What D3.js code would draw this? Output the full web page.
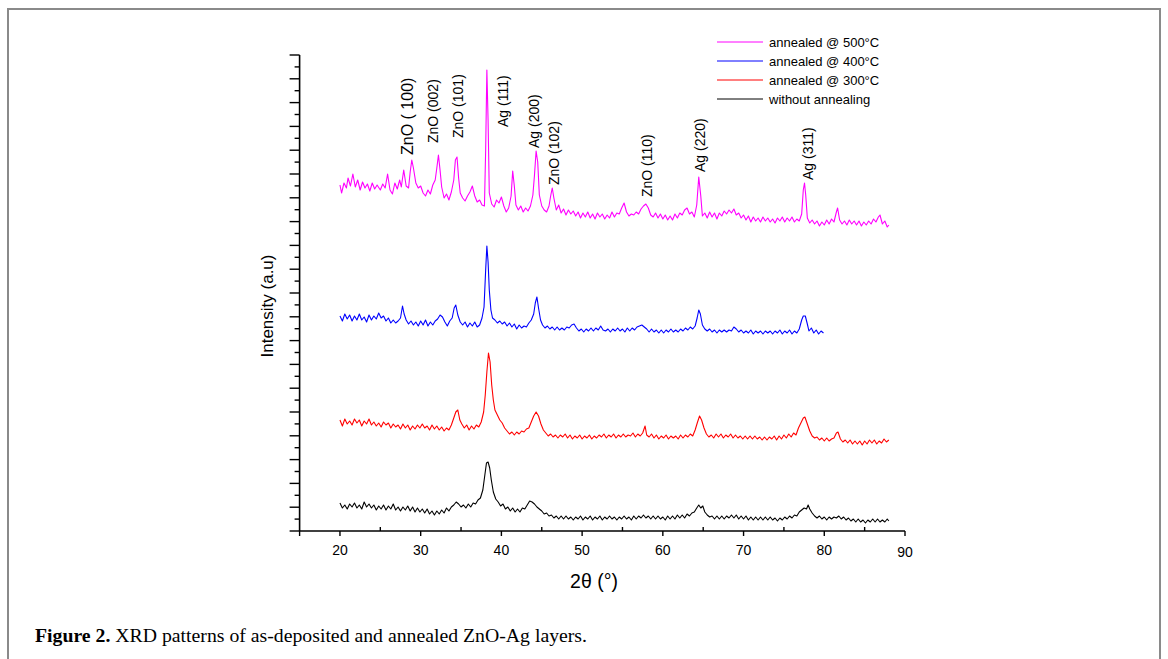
<!DOCTYPE html>
<html lang="en">
<head>
<meta charset="UTF-8">
<title>XRD patterns ZnO-Ag</title>
<script src="https://d3js.org/d3.v7.min.js"></script>
<style>
  body { margin: 0; padding: 0; background: #fff; }
  svg { display: block; }
  .ax text { font-family: "Liberation Sans", Arial, sans-serif; }
</style>
</head>
<body>
<script>
// 2θ (deg) / intensity (a.u.)
var s500 = [[20.0,346],[20.2,338],[20.5,348],[20.8,343],[21.0,353],[21.3,345],[21.6,357],[21.9,344],[22.2,351],[22.5,341],
  [22.8,349],[23.1,343],[23.4,347],[23.7,340],[24.0,348],[24.3,342],[24.6,346],[25.0,341],[25.3,347],[25.6,343],
  [25.9,357],[26.2,341],[26.5,337],[26.8,348],[27.1,342],[27.4,351],[27.6,344],[27.9,361],[28.2,345],[28.5,343],
  [28.7,359],[28.9,371],[29.1,363],[29.4,348],[29.7,343],[30.0,345],[30.3,338],[30.6,335],[30.9,341],[31.2,337],
  [31.5,346],[31.8,351],[32.0,363],[32.2,376],[32.4,361],[32.6,344],[32.9,333],[33.2,337],[33.5,331],[33.8,339],
  [34.1,351],[34.3,371],[34.5,374],[34.7,353],[34.9,338],[35.2,333],[35.5,330],[35.8,335],[36.1,339],[36.4,345],
  [36.7,335],[37.0,329],[37.3,331],[37.6,326],[37.9,325],[38.05,381],[38.2,461],[38.35,411],[38.5,338],[38.8,327],
  [39.1,324],[39.4,331],[39.7,328],[40.0,334],[40.3,325],[40.6,319],[40.9,323],[41.2,335],[41.4,360],[41.6,345],
  [41.8,326],[42.1,321],[42.4,325],[42.7,319],[43.0,323],[43.3,320],[43.6,325],[43.9,336],[44.1,356],[44.3,380],
  [44.5,369],[44.7,336],[45.0,325],[45.3,321],[45.6,319],[45.9,325],[46.1,335],[46.3,343],[46.5,333],[46.8,321],
  [47.1,326],[47.4,318],[47.7,322],[48.0,316],[48.3,321],[48.6,317],[48.9,320],[49.2,315],[49.5,319],[49.8,313],
  [50.1,318],[50.4,314],[50.7,319],[51.0,313],[51.3,317],[51.6,312],[51.9,318],[52.2,314],[52.5,317],[52.8,312],
  [53.1,316],[53.4,313],[53.7,319],[54.0,314],[54.3,318],[54.6,317],[54.9,323],[55.2,328],[55.5,319],[55.8,315],
  [56.1,317],[56.4,316],[56.7,319],[57.0,317],[57.3,322],[57.6,325],[57.9,327],[58.2,323],[58.5,316],[58.8,314],
  [59.1,318],[59.4,313],[59.7,317],[60.0,312],[60.3,316],[60.6,311],[60.9,315],[61.2,311],[61.5,317],[61.8,313],
  [62.1,318],[62.4,316],[62.7,321],[63.0,323],[63.3,317],[63.6,319],[63.9,314],[64.2,326],[64.45,354],[64.7,335],
  [64.9,315],[65.2,318],[65.5,313],[65.8,319],[66.1,314],[66.4,318],[66.7,312],[67.0,318],[67.3,315],[67.6,320],
  [67.9,317],[68.2,321],[68.5,318],[68.8,322],[69.1,316],[69.4,318],[69.7,313],[70.0,316],[70.3,311],[70.6,315],
  [70.9,309],[71.2,314],[71.5,310],[71.8,313],[72.1,309],[72.4,314],[72.7,310],[73.0,313],[73.3,309],[73.6,312],
  [73.9,308],[74.2,313],[74.5,310],[74.8,314],[75.1,309],[75.4,313],[75.7,310],[76.0,314],[76.3,309],[76.6,312],
  [76.9,310],[77.2,317],[77.4,341],[77.55,348],[77.7,336],[77.9,313],[78.2,308],[78.5,311],[78.8,307],[79.1,310],
  [79.4,305],[79.7,309],[80.0,306],[80.3,311],[80.6,307],[80.9,312],[81.2,309],[81.5,319],[81.65,323],[81.9,311],
  [82.2,307],[82.5,310],[82.8,306],[83.1,311],[83.4,307],[83.7,310],[84.0,306],[84.3,310],[84.6,305],[84.9,309],
  [85.2,306],[85.5,310],[85.8,307],[86.1,312],[86.4,309],[86.7,314],[86.9,316],[87.2,307],[87.5,310],[87.8,304],[88.0,306]];

var s400 = [[20.0,215],[20.3,210],[20.6,217],[20.9,212],[21.2,216],[21.5,210],[21.8,215],[22.1,211],[22.4,217],[22.7,211],
  [23.0,214],[23.3,209],[23.6,216],[23.9,211],[24.2,215],[24.5,212],[24.8,218],[25.1,213],[25.4,215],[25.7,210],
  [26.0,213],[26.3,208],[26.6,211],[26.9,208],[27.2,210],[27.5,213],[27.75,225],[27.95,217],[28.2,211],[28.5,207],
  [28.8,210],[29.1,206],[29.4,209],[29.7,205],[30.0,210],[30.3,206],[30.6,211],[30.9,205],[31.2,209],[31.5,206],
  [31.8,210],[32.1,212],[32.4,216],[32.7,214],[33.0,209],[33.3,205],[33.6,210],[33.9,213],[34.15,223],[34.35,226],
  [34.6,216],[34.9,209],[35.2,206],[35.5,209],[35.8,204],[36.1,208],[36.4,205],[36.7,209],[37.0,204],[37.3,206],
  [37.6,213],[37.85,224],[38.05,261],[38.2,285],[38.35,269],[38.5,241],[38.7,221],[38.9,213],[39.2,211],[39.5,208],
  [39.8,210],[40.1,207],[40.4,209],[40.7,205],[41.0,208],[41.3,204],[41.6,207],[41.9,202],[42.2,206],[42.5,203],
  [42.8,205],[43.1,204],[43.4,208],[43.7,211],[44.0,217],[44.2,228],[44.4,234],[44.6,223],[44.85,211],[45.1,206],
  [45.4,203],[45.7,205],[46.0,202],[46.3,204],[46.6,201],[46.9,204],[47.2,201],[47.5,203],[47.8,201],[48.1,204],
  [48.4,203],[48.7,206],[49.0,207],[49.3,203],[49.6,200],[49.9,202],[50.2,199],[50.5,202],[50.8,200],[51.1,203],
  [51.4,200],[51.7,203],[52.0,201],[52.3,205],[52.6,201],[52.9,200],[53.2,202],[53.5,199],[53.8,202],[54.1,200],
  [54.4,203],[54.7,200],[55.0,202],[55.3,199],[55.6,203],[55.9,200],[56.2,203],[56.5,201],[56.8,204],[57.1,205],
  [57.4,206],[57.7,204],[58.0,202],[58.3,199],[58.6,202],[58.9,199],[59.2,201],[59.5,198],[59.8,201],[60.1,198],
  [60.4,201],[60.7,199],[61.0,202],[61.3,199],[61.6,201],[61.9,199],[62.2,202],[62.5,200],[62.8,203],[63.1,201],
  [63.4,204],[63.7,202],[64.0,205],[64.25,213],[64.45,221],[64.65,217],[64.9,206],[65.2,202],[65.5,200],[65.8,202],
  [66.1,199],[66.4,201],[66.7,198],[67.0,201],[67.3,199],[67.6,201],[67.9,199],[68.2,201],[68.5,200],[68.8,204],
  [69.1,202],[69.4,199],[69.7,201],[70.0,198],[70.3,200],[70.6,198],[70.9,201],[71.2,197],[71.5,200],[71.8,198],
  [72.1,200],[72.4,197],[72.7,200],[73.0,198],[73.3,200],[73.6,197],[73.9,200],[74.2,198],[74.5,201],[74.8,197],
  [75.1,200],[75.4,198],[75.7,201],[76.0,197],[76.3,200],[76.6,198],[76.9,202],[77.2,211],[77.4,215],[77.65,215],
  [77.9,207],[78.1,200],[78.4,203],[78.7,198],[79.0,201],[79.3,197],[79.6,200],[79.9,198]];

var s300 = [[20.0,111],[20.3,105],[20.6,112],[20.9,107],[21.2,110],[21.5,106],[21.8,112],[22.1,108],[22.4,111],[22.7,105],
  [23.0,110],[23.3,107],[23.6,112],[23.9,106],[24.2,109],[24.5,105],[24.8,108],[25.1,104],[25.4,109],[25.7,106],
  [26.0,108],[26.3,103],[26.6,107],[26.9,104],[27.2,106],[27.5,102],[27.8,107],[28.1,103],[28.4,106],[28.7,101],
  [29.0,105],[29.3,102],[29.6,106],[29.9,103],[30.2,107],[30.5,103],[30.8,105],[31.1,101],[31.4,106],[31.7,102],
  [32.0,105],[32.3,101],[32.6,104],[32.9,100],[33.2,103],[33.5,101],[33.8,106],[34.1,113],[34.35,119],[34.6,121],
  [34.85,111],[35.1,107],[35.4,103],[35.7,106],[36.0,101],[36.3,105],[36.6,102],[36.9,106],[37.2,104],[37.5,109],
  [37.8,119],[38.0,136],[38.2,159],[38.4,178],[38.6,169],[38.8,146],[39.0,131],[39.2,121],[39.5,116],[39.8,111],
  [40.1,108],[40.4,103],[40.7,100],[41.0,97],[41.3,99],[41.6,96],[41.9,99],[42.2,97],[42.5,100],[42.8,99],
  [43.1,102],[43.4,103],[43.7,109],[44.0,115],[44.3,119],[44.6,115],[44.9,107],[45.2,101],[45.5,98],[45.8,95],
  [46.1,97],[46.4,94],[46.7,96],[47.0,93],[47.3,96],[47.6,94],[47.9,97],[48.2,93],[48.5,96],[48.8,92],
  [49.1,95],[49.4,93],[49.7,96],[50.0,92],[50.3,95],[50.6,93],[50.9,96],[51.2,92],[51.5,95],[51.8,93],
  [52.1,96],[52.4,94],[52.7,97],[53.0,93],[53.3,96],[53.6,94],[53.9,97],[54.2,93],[54.5,96],[54.8,94],
  [55.1,97],[55.4,94],[55.7,96],[56.0,95],[56.3,98],[56.6,94],[56.9,97],[57.2,95],[57.5,98],[57.8,105],
  [58.0,96],[58.3,94],[58.6,97],[58.9,93],[59.2,96],[59.5,92],[59.8,95],[60.1,93],[60.4,96],[60.7,92],
  [61.0,95],[61.3,93],[61.6,95],[61.9,92],[62.2,96],[62.5,93],[62.8,96],[63.1,94],[63.4,97],[63.7,95],
  [64.0,101],[64.3,109],[64.55,115],[64.8,111],[65.1,103],[65.4,97],[65.7,94],[66.0,96],[66.3,93],[66.6,97],
  [66.9,94],[67.2,97],[67.5,93],[67.8,96],[68.1,94],[68.4,97],[68.7,93],[69.0,96],[69.3,93],[69.6,95],
  [69.9,92],[70.2,95],[70.5,92],[70.8,95],[71.1,92],[71.4,95],[71.7,92],[72.0,94],[72.3,91],[72.6,94],
  [72.9,91],[73.2,94],[73.5,92],[73.8,95],[74.1,91],[74.4,95],[74.7,92],[75.0,96],[75.3,93],[75.6,97],
  [75.9,94],[76.2,98],[76.5,96],[76.8,103],[77.1,108],[77.4,113],[77.6,114],[77.9,107],[78.2,100],[78.5,95],
  [78.8,93],[79.1,94],[79.4,91],[79.7,93],[80.0,90],[80.3,93],[80.6,90],[80.9,92],[81.2,93],[81.5,98],
  [81.7,99],[82.0,92],[82.3,89],[82.6,91],[82.9,88],[83.2,91],[83.5,87],[83.8,90],[84.1,87],[84.4,90],
  [84.7,86],[85.0,90],[85.3,87],[85.6,91],[85.9,88],[86.2,91],[86.5,87],[86.8,90],[87.1,88],[87.4,92],[87.7,89],[88.0,91]];

var s000 = [[20.0,28],[20.3,23],[20.6,26],[20.9,22],[21.2,27],[21.5,24],[21.8,28],[22.1,23],[22.4,26],[22.7,22],
  [23.0,29],[23.3,24],[23.6,27],[23.9,23],[24.2,26],[24.5,21],[24.8,25],[25.1,22],[25.4,26],[25.7,21],
  [26.0,25],[26.3,22],[26.6,27],[26.9,21],[27.2,24],[27.5,20],[27.8,24],[28.1,21],[28.4,25],[28.7,20],
  [29.0,24],[29.3,19],[29.6,23],[29.9,19],[30.2,22],[30.5,18],[30.8,22],[31.1,17],[31.4,20],[31.7,16],
  [32.0,20],[32.3,17],[32.6,21],[32.9,18],[33.2,23],[33.5,20],[33.8,24],[34.1,26],[34.4,29],[34.7,27],
  [35.0,24],[35.3,26],[35.6,23],[35.9,27],[36.2,24],[36.5,28],[36.8,27],[37.1,31],[37.4,33],[37.7,41],
  [37.95,56],[38.15,68],[38.35,69],[38.55,63],[38.75,51],[39.0,39],[39.3,32],[39.6,29],[39.9,25],[40.2,27],
  [40.5,22],[40.8,24],[41.1,20],[41.4,23],[41.7,19],[42.0,22],[42.3,19],[42.6,23],[42.9,22],[43.2,26],
  [43.5,30],[43.8,29],[44.1,27],[44.4,24],[44.7,22],[45.0,20],[45.3,17],[45.6,18],[45.9,15],[46.2,16],
  [46.5,13],[46.8,15],[47.1,12],[47.4,15],[47.7,12],[48.0,15],[48.3,12],[48.6,14],[48.9,11],[49.2,14],
  [49.5,12],[49.8,15],[50.1,11],[50.4,14],[50.7,12],[51.0,15],[51.3,11],[51.6,14],[51.9,12],[52.2,15],
  [52.5,11],[52.8,14],[53.1,12],[53.4,15],[53.7,12],[54.0,14],[54.3,11],[54.6,14],[54.9,12],[55.2,15],
  [55.5,12],[55.8,14],[56.1,11],[56.4,15],[56.7,12],[57.0,15],[57.3,13],[57.6,16],[57.9,13],[58.2,15],
  [58.5,12],[58.8,15],[59.1,12],[59.4,15],[59.7,12],[60.0,14],[60.3,11],[60.6,15],[60.9,12],[61.2,15],
  [61.5,12],[61.8,16],[62.1,13],[62.4,16],[62.7,13],[63.0,17],[63.3,15],[63.6,18],[63.9,19],[64.2,23],
  [64.45,26],[64.7,23],[64.95,25],[65.2,19],[65.5,16],[65.8,14],[66.1,15],[66.4,12],[66.7,15],[67.0,12],
  [67.3,15],[67.6,12],[67.9,15],[68.2,13],[68.5,16],[68.8,13],[69.1,16],[69.4,12],[69.7,15],[70.0,12],
  [70.3,15],[70.6,11],[70.9,14],[71.2,11],[71.5,14],[71.8,11],[72.1,14],[72.4,11],[72.7,14],[73.0,11],
  [73.3,14],[73.6,11],[73.9,13],[74.2,10],[74.5,13],[74.8,11],[75.1,14],[75.4,12],[75.7,15],[76.0,13],
  [76.3,16],[76.6,15],[76.9,19],[77.2,21],[77.5,23],[77.8,22],[78.0,26],[78.2,22],[78.5,18],[78.8,15],
  [79.1,13],[79.4,15],[79.7,12],[80.0,14],[80.3,11],[80.6,14],[80.9,12],[81.2,14],[81.5,13],[81.8,15],
  [82.1,12],[82.4,14],[82.7,11],[83.0,13],[83.3,10],[83.6,12],[83.9,9],[84.2,12],[84.5,9],[84.8,11],
  [85.1,8],[85.4,11],[85.7,9],[86.0,12],[86.3,9],[86.6,12],[86.9,9],[87.2,11],[87.5,9],[87.8,12],[88.0,10]];

var seriesNames = ["annealed @ 500°C", "annealed @ 400°C", "annealed @ 300°C", "without annealing"];
var seriesColors = ["#ff00ff", "#0000ff", "#ff0000", "#000000"];
var seriesData = [s500, s400, s300, s000];

// peak labels: text, 2θ position, intensity where the label starts
var peakNames = ["ZnO ( 100)", "ZnO (002)", "ZnO (101)", "Ag (111)", "Ag (200)", "ZnO (102)", "ZnO (110)", "Ag (220)", "Ag (311)"];
var peakTheta = [28.4, 31.5, 34.6, 40.2, 44.0, 46.5, 58.0, 64.6, 78.0];
var peakLabelI = [376, 388, 393, 404, 383, 346, 334, 359, 351];

var xMajor = [15, 20, 30, 40, 50, 60, 70, 80, 90];
var xMinor = [25, 35, 45, 55, 65, 75, 85];
var xLabels = [20, 30, 40, 50, 60, 70, 80, 90];

var W = 1168, H = 659;
var svg = d3.select("body").append("svg").attr("width", W).attr("height", H);

// outer frame of the figure
svg.append("rect").attr("x", 8).attr("y", 9).attr("width", 1152).attr("height", 700)
  .attr("fill", "none").attr("stroke", "#8a8a8a").attr("stroke-width", 2);

var x = d3.scaleLinear().domain([15, 90]).range([299.6, 905]);
var y = d3.scaleLinear().domain([0, 476]).range([531, 55]);

var g = svg.append("g").attr("class", "ax");

// y axis with unlabeled ticks
var yStep = 476 / 40;
var yTicks = d3.range(0, 41).map(function(k) { return k * yStep; });
g.selectAll(".ytick").data(yTicks).enter().append("line")
  .attr("x1", function(d, i) { return x(15) - (i % 2 === 0 ? 10 : 5); })
  .attr("x2", x(15))
  .attr("y1", function(d) { return y(d); })
  .attr("y2", function(d) { return y(d); })
  .attr("stroke", "#000").attr("stroke-width", 1.4);

// x ticks
g.selectAll(".xmaj").data(xMajor).enter().append("line")
  .attr("x1", function(d) { return x(d); }).attr("x2", function(d) { return x(d); })
  .attr("y1", y(0)).attr("y2", y(0) + 5)
  .attr("stroke", "#000").attr("stroke-width", 1.4);
g.selectAll(".xmin").data(xMinor).enter().append("line")
  .attr("x1", function(d) { return x(d); }).attr("x2", function(d) { return x(d); })
  .attr("y1", y(0)).attr("y2", y(0) - 4)
  .attr("stroke", "#000").attr("stroke-width", 1.4);

g.append("line").attr("x1", x(15)).attr("x2", x(15)).attr("y1", y(0)).attr("y2", y(476))
  .attr("stroke", "#000").attr("stroke-width", 1.6);
g.append("line").attr("x1", x(15)).attr("x2", x(90)).attr("y1", y(0)).attr("y2", y(0))
  .attr("stroke", "#000").attr("stroke-width", 1.6);

g.selectAll(".xlab").data(xLabels).enter().append("text")
  .attr("x", function(d) { return x(d); })
  .attr("y", function(d) { return d === 90 ? 557 : 555; })
  .attr("text-anchor", "middle").attr("font-size", 14).text(function(d) { return d; });

g.append("text").attr("x", 594).attr("y", 588).attr("text-anchor", "middle")
  .attr("font-size", 19.5).text("2θ (°)");
g.append("text").attr("transform", "translate(273,306) rotate(-90)")
  .attr("text-anchor", "middle").attr("font-size", 17).text("Intensity (a.u)");

// patterns
var line = d3.line()
  .x(function(d) { return x(d[0]); })
  .y(function(d) { return y(d[1]); });

svg.selectAll(".pattern").data(seriesData).enter().append("path")
  .attr("d", line)
  .attr("fill", "none")
  .attr("stroke", function(d, i) { return seriesColors[i]; })
  .attr("stroke-width", 1.1)
  .attr("stroke-linejoin", "round");

// peak labels
g.selectAll(".peak").data(peakNames).enter().append("text")
  .attr("transform", function(d, i) {
    return "translate(" + (x(peakTheta[i]) + 5) + "," + y(peakLabelI[i]) + ") rotate(-90)";
  })
  .attr("font-size", function(d, i) { return i === 0 ? 16 : 14; })
  .text(function(d) { return d; });

// legend
var leg = g.selectAll(".leg").data(seriesNames).enter().append("g")
  .attr("transform", function(d, i) { return "translate(717," + (42 + i * 19) + ")"; });
leg.append("line").attr("x1", 0).attr("x2", 46).attr("y1", 0).attr("y2", 0)
  .attr("stroke", function(d, i) { return seriesColors[i]; }).attr("stroke-width", 1);
leg.append("text").attr("x", 52).attr("y", 4.5).attr("font-size", 13).text(function(d) { return d; });

// caption
var cap = svg.append("text").attr("x", 35).attr("y", 642)
  .attr("font-family", "'Liberation Serif', 'Times New Roman', serif").attr("font-size", 19.5)
  .attr("textLength", 552).attr("lengthAdjust", "spacingAndGlyphs");
cap.append("tspan").attr("font-weight", "bold").text("Figure 2.");
cap.append("tspan").text(" XRD patterns of as-deposited and annealed ZnO-Ag layers.");
</script>
</body>
</html>
